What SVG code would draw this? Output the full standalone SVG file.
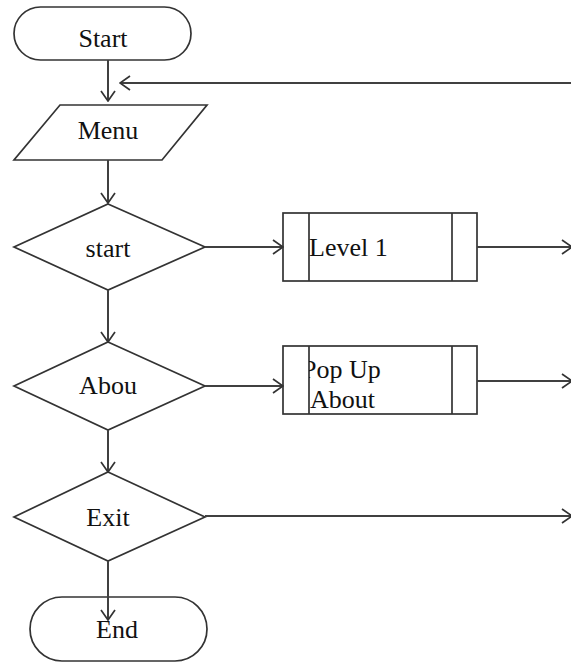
<svg xmlns="http://www.w3.org/2000/svg" width="571" height="663" viewBox="0 0 571 663">
<style>
.s{fill:#fff;stroke:#333;stroke-width:1.7}
.c{fill:none;stroke:#404040;stroke-width:2}
.t{font-family:"Liberation Serif","Times New Roman",serif;font-size:26px;fill:#111}
.m{text-anchor:middle}
</style>
<defs>
<marker id="a" viewBox="0 0 12 16" refX="11" refY="8" markerWidth="12" markerHeight="16" markerUnits="userSpaceOnUse" orient="auto">
<path d="M1,1 L11,8 L1,15" fill="none" stroke="#333" stroke-width="1.7"/>
</marker>
<clipPath id="pc"><rect x="309" y="346" width="143" height="68"/></clipPath>
</defs>
<g id="nodes">
<g id="n-start"><rect class="s" x="14" y="7" width="177" height="53" rx="26.5"/><text class="t m" x="103" y="47">Start</text></g>
<g id="n-menu"><polygon class="s" points="60,105 207,105 162,160 14,160"/><text class="t m" x="108" y="139">Menu</text></g>
<g id="n-startd"><polygon class="s" points="108,204 205,247 108,290 14,247"/><text class="t m" x="108" y="257">start</text></g>
<g id="n-level1"><rect class="s" x="283" y="213" width="194" height="68"/><line class="s" x1="309" y1="213" x2="309" y2="281"/><line class="s" x1="452" y1="213" x2="452" y2="281"/><text class="t" x="309" y="256">Level 1</text></g>
<g id="n-abou"><polygon class="s" points="108,342 205,386 108,430 14,386"/><text class="t m" x="108" y="394">Abou</text></g>
<g id="n-popup"><rect class="s" x="283" y="346" width="194" height="68"/><line class="s" x1="309" y1="346" x2="309" y2="414"/><line class="s" x1="452" y1="346" x2="452" y2="414"/><g clip-path="url(#pc)"><text class="t" x="302" y="378">Pop Up</text></g><text class="t" x="310" y="408">About</text></g>
<g id="n-exit"><polygon class="s" points="108,472 205,517 108,561 14,517"/><text class="t m" x="108" y="526">Exit</text></g>
<g id="n-end"><rect class="s" x="30" y="597" width="177" height="64" rx="32"/><text class="t m" x="117" y="638">End</text></g>
</g>
<g id="connectors">
<line class="c" x1="108" y1="60" x2="108" y2="101" marker-end="url(#a)"/>
<line class="c" x1="571" y1="83" x2="120" y2="83" marker-end="url(#a)"/>
<line class="c" x1="108" y1="160" x2="108" y2="203" marker-end="url(#a)"/>
<line class="c" x1="205" y1="247" x2="283" y2="247" marker-end="url(#a)"/>
<line class="c" x1="477" y1="247" x2="572" y2="247" marker-end="url(#a)"/>
<line class="c" x1="108" y1="290" x2="108" y2="342" marker-end="url(#a)"/>
<line class="c" x1="205" y1="386" x2="283" y2="386" marker-end="url(#a)"/>
<line class="c" x1="477" y1="381" x2="572" y2="381" marker-end="url(#a)"/>
<line class="c" x1="108" y1="430" x2="108" y2="472" marker-end="url(#a)"/>
<line class="c" x1="205" y1="516" x2="572" y2="516" marker-end="url(#a)"/>
<line class="c" x1="108" y1="561" x2="108" y2="620" marker-end="url(#a)"/>
</g>
</svg>
